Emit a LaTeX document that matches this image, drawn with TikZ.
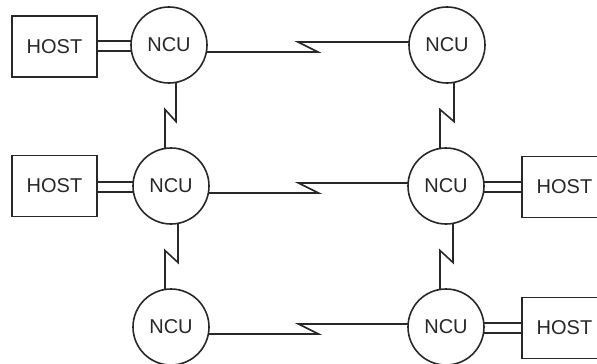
\documentclass[tikz,border=0pt]{standalone}
\usepackage{fontspec}
\setmainfont{Liberation Sans}
\usetikzlibrary{backgrounds,calc}
\definecolor{ink}{RGB}{40,40,40}
\newcommand{\labelfont}{\fontsize{20pt}{22pt}\selectfont}
\begin{document}
\begin{tikzpicture}[x=1pt,y=-1pt,
  ncu/.style={circle,draw=ink,fill=white,line width=1.6pt,minimum size=76pt,
    inner sep=0pt,text=ink,font=\labelfont},
  host/.style={rectangle,draw=ink,fill=white,line width=1.6pt,minimum width=85pt,
    minimum height=61pt,inner sep=0pt,text=ink,font=\labelfont},
  link/.style={draw=ink,line width=1.6pt,line join=miter}]
\useasboundingbox (0,0) rectangle (597,364);
\clip (0,0) rectangle (597,364);

% network control units
\node[ncu] (n1) at (169,45)  {NCU};
\node[ncu] (n2) at (171,186) {NCU};
\node[ncu] (n3) at (171,327) {NCU};
\node[ncu] (n4) at (447,45)  {NCU};
\node[ncu] (n5) at (446,186) {NCU};
\node[ncu] (n6) at (446,327) {NCU};

% host computers
\node[host] (h1) at (54.5,46.5) {HOST};
\node[host] (h2) at (54.5,186)  {HOST};
\node[host] (h5) at (564.5,187) {HOST};
\node[host] (h6) at (564.5,328) {HOST};

% midpoints of the links, where the zigzag sits
\coordinate (za) at ($(n1)!0.5!(n4)$);
\coordinate (zb) at ($(n2)!0.5!(n5)$);
\coordinate (zc) at ($(n3)!0.5!(n6)$);
\coordinate (va) at ($(n1)!0.5!(n2)$);
\coordinate (vb) at ($(n2)!0.5!(n3)$);
\coordinate (vc) at ($(n4)!0.5!(n5)$);
\coordinate (vd) at ($(n5)!0.5!(n6)$);

\begin{scope}[on background layer]
  % host channels (double lines)
  \foreach \h/\n in {h1/n1,h2/n2,h5/n5,h6/n6}{
    \draw[link] ($(\n.center -| \h.east)+(0,-4)$) -- ($(\n)+(0,-4)$);
    \draw[link] ($(\n.center -| \h.east)+(0,6)$)  -- ($(\n)+(0,6)$);
  }
  % horizontal communication links
  \foreach \a/\b/\z in {n1/n4/za,n2/n5/zb,n3/n6/zc}{
    \draw[link] ($(\a)+(0,7)$) -- ($(\z.center |- \a.center)+(10,7)$)
      -- ($(\z.center |- \b.center)+(-10,-3)$) -- ($(\b)+(0,-3)$);
  }
  % vertical communication links
  \foreach \a/\b/\v in {n1/n2/va,n2/n3/vb,n4/n5/vc,n5/n6/vd}{
    \draw[link] ($(\a)+(7,0)$) -- ($(\a.center |- \v.center)+(7,6)$)
      -- ($(\b.center |- \v.center)+(-6,-6)$) -- ($(\b)+(-6,0)$);
  }
\end{scope}
\end{tikzpicture}
\end{document}
